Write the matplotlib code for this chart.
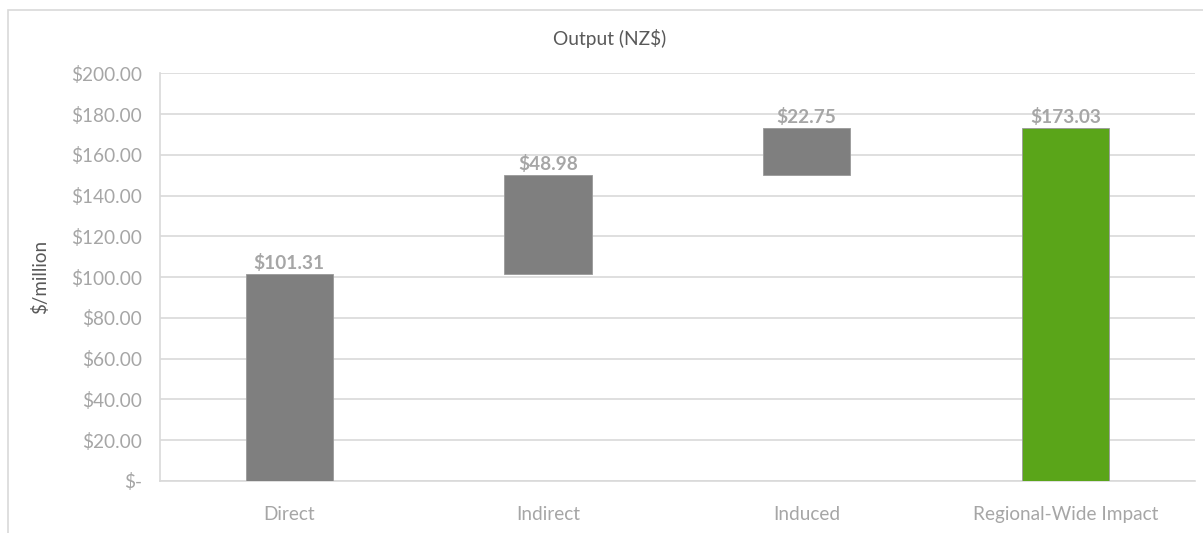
import matplotlib.pyplot as plt
from matplotlib.patches import Rectangle
from matplotlib.ticker import FuncFormatter

plt.rcParams['font.family'] = ['Lato', 'DejaVu Sans']

# Waterfall components ($ million)
categories = ['Direct', 'Indirect', 'Induced', 'Regional-Wide Impact']
increments = [101.31, 48.98, 22.75]
total = 173.03
labels = ['$101.31', '$48.98', '$22.75', '$173.03']

# stacked bases for the floating bars
bases = [0]
for v in increments[:-1]:
    bases.append(bases[-1] + v)
bottoms = bases + [0]
heights = increments + [total]
colors = ['#7f7f7f'] * 3 + ['#5aa519']

fig = plt.figure(figsize=(12.03, 5.33), dpi=100)
ax = fig.add_axes([0.133, 0.0976, 0.860, 0.765])

x = list(range(len(categories)))
ax.bar(x, heights, bottom=bottoms, width=0.337, color=colors,
       edgecolor='#9a9a9a', linewidth=0.6, zorder=3)

for xi, b, h, lab in zip(x, bottoms, heights, labels):
    ax.text(xi, b + h + 1.0, lab, ha='center', va='bottom', fontsize=13.7,
            fontweight='bold', color='#a6a6a6', zorder=4)

ax.set_xlim(-0.5, 3.5)
ax.set_ylim(0, 200)
ax.set_yticks(range(0, 201, 20))
ax.yaxis.set_major_formatter(FuncFormatter(lambda v, p: '$-' if v == 0 else f'${v:.2f}'))
ax.set_xticks(x)
ax.set_xticklabels(categories)
ax.grid(axis='y', color='#d9d9d9', linewidth=1.2, zorder=0)
ax.tick_params(axis='both', length=0, labelsize=13.7, colors='#a6a6a6')
ax.tick_params(axis='y', pad=13)
ax.tick_params(axis='x', pad=18)

for s in ['top', 'right']:
    ax.spines[s].set_visible(False)
ax.spines['left'].set_color('#d9d9d9')
ax.spines['left'].set_linewidth(1.2)
ax.spines['bottom'].set_color('#d9d9d9')
ax.spines['bottom'].set_linewidth(1.2)

ax.set_ylabel('$/million', fontsize=13.5, color='#595959', labelpad=16)
fig.text(610 / 1203, 1 - 39 / 533, 'Output (NZ$)', ha='center', va='center',
         fontsize=13.8, color='#595959')

# outer chart frame
fig.patches.append(Rectangle((8 / 1203, -0.05), 1.2, 1 - 10 / 533 + 0.05,
                             transform=fig.transFigure, fill=False,
                             edgecolor='#d9d9d9', linewidth=1.2))

fig.savefig('out.png', dpi=100)
